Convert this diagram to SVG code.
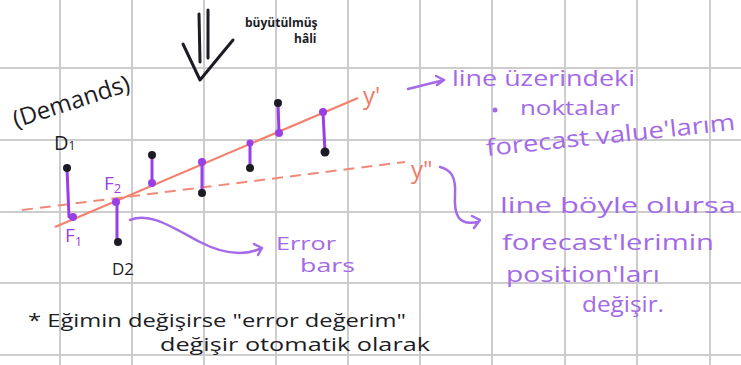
<svg xmlns="http://www.w3.org/2000/svg" width="741" height="365" viewBox="0 0 741 365">
<defs>
<style>
.grid{stroke:#cdcdcd;stroke-width:2}
.hw{font-family:"Open Sans","Liberation Sans",sans-serif}
.blk{fill:#1c1c24}
.pur{fill:#a36ae8}
.red{fill:#ef7a66}
.bar{stroke:#9a3ee6;stroke-width:3;stroke-linecap:round;fill:none}
.dem{fill:#1c1c24}
.fc{fill:#9a3ee6}
.pconn{stroke:#a46ae8;stroke-width:2.5;fill:none;stroke-linecap:round;stroke-linejoin:round}
</style>
</defs>
<rect width="741" height="365" fill="#ffffff"/>
<g id="grid">
<line class="grid" x1="60" y1="0" x2="60" y2="365"/>
<line class="grid" x1="132" y1="0" x2="132" y2="365"/>
<line class="grid" x1="204" y1="0" x2="204" y2="365"/>
<line class="grid" x1="276" y1="0" x2="276" y2="365"/>
<line class="grid" x1="348" y1="0" x2="348" y2="365"/>
<line class="grid" x1="420" y1="0" x2="420" y2="365"/>
<line class="grid" x1="492" y1="0" x2="492" y2="365"/>
<line class="grid" x1="565" y1="0" x2="565" y2="365"/>
<line class="grid" x1="637" y1="0" x2="637" y2="365"/>
<line class="grid" x1="710" y1="0" x2="710" y2="365"/>
<line class="grid" x1="0" y1="68" x2="741" y2="68"/>
<line class="grid" x1="0" y1="140" x2="741" y2="140"/>
<line class="grid" x1="0" y1="212" x2="741" y2="212"/>
<line class="grid" x1="0" y1="283" x2="741" y2="283"/>
<line class="grid" x1="0" y1="355" x2="741" y2="355"/>
</g>
<g id="lines">
<line x1="55" y1="227" x2="358" y2="98" stroke="#f2826e" stroke-width="2.2"/>
<line x1="22" y1="210" x2="405" y2="162" stroke="#f08a78" stroke-width="2" stroke-dasharray="11 7"/>
</g>
<g id="points">
<line class="bar" x1="67" y1="168" x2="69" y2="217"/>
<circle class="dem" cx="67" cy="168" r="4"/><circle class="fc" cx="73" cy="217" r="4"/>
<line class="bar" x1="117" y1="202" x2="117" y2="242"/>
<circle class="fc" cx="116" cy="202" r="4"/><circle class="dem" cx="118" cy="242" r="4"/>
<line class="bar" x1="152" y1="155" x2="152" y2="183"/>
<circle class="dem" cx="152" cy="155" r="4"/><circle class="fc" cx="152" cy="183" r="4"/>
<line class="bar" x1="202" y1="162" x2="202" y2="193"/>
<circle class="fc" cx="202" cy="162" r="4"/><circle class="dem" cx="202" cy="193" r="4"/>
<line class="bar" x1="250" y1="143" x2="250" y2="168"/>
<circle class="fc" cx="250" cy="143" r="3.5"/><circle class="dem" cx="250" cy="168" r="4"/>
<line class="bar" x1="278" y1="103" x2="279" y2="133"/>
<circle class="dem" cx="278" cy="103" r="4"/><circle class="fc" cx="279" cy="133" r="4"/>
<line class="bar" x1="323" y1="112" x2="325" y2="152"/>
<circle class="fc" cx="323" cy="112" r="4"/><circle class="dem" cx="325" cy="152" r="4.5"/>
</g>
<g id="big-arrow" stroke="#1c1c24" stroke-width="3" fill="none" stroke-linecap="round" stroke-linejoin="round">
<path d="M199 14 L200 62"/>
<path d="M208 10 L208 58"/>
<path d="M183 44 L200 80 L233 40"/>
</g>
<g id="labels-left">
<text class="hw blk" x="16" y="128" font-size="24" transform="rotate(-18 16 128)">(Demands)</text>
<text class="hw blk" x="54" y="150" font-size="20">D<tspan font-size="12">1</tspan></text>
<text class="hw" x="104" y="190" font-size="19" fill="#9a3ee6">F<tspan font-size="13" dy="3">2</tspan></text>
<text class="hw" x="65" y="242" font-size="19" fill="#9a3ee6">F<tspan font-size="13" dy="4">1</tspan></text>
<text class="hw blk" x="112" y="275" font-size="17">D2</text>
<text class="hw blk" x="245" y="27" font-size="12" font-weight="bold">büyütülmüş</text>
<text class="hw blk" x="294" y="43" font-size="12" font-weight="bold">hâli</text>
</g>
<g id="labels-red">
<text class="hw red" x="363" y="104" font-size="24">y'</text>
<text class="hw red" x="411" y="178" font-size="24">y"</text>
</g>
<g id="connectors">
<path class="pconn" d="M408 89 L444 80 M436 76 L444 80 L437 85"/>
<path class="pconn" d="M440 167 C452 170 456 178 455 195 C454 215 458 226 478 222 M472 216 L480 220 L474 228"/>
<path class="pconn" d="M130 220 C150 212 170 226 200 242 C225 255 245 256 262 248 M254 244 L262 248 L258 255"/>
</g>
<g id="note-top">
<text class="hw pur" x="452" y="86" font-size="22" textLength="183" lengthAdjust="spacingAndGlyphs">line üzerindeki</text>
<circle cx="495" cy="110" r="2.5" fill="#a36ae8"/>
<text class="hw pur" x="520" y="115" font-size="20" textLength="100" lengthAdjust="spacingAndGlyphs">noktalar</text>
<text class="hw pur" x="487" y="156" font-size="23" textLength="250" lengthAdjust="spacingAndGlyphs" transform="rotate(-6 487 156)">forecast value'larım</text>
</g>
<g id="note-right">
<text class="hw pur" x="500" y="213" font-size="22" textLength="236" lengthAdjust="spacingAndGlyphs">line böyle olursa</text>
<text class="hw pur" x="502" y="250" font-size="22" textLength="212" lengthAdjust="spacingAndGlyphs">forecast'lerimin</text>
<text class="hw pur" x="506" y="282" font-size="22" textLength="154" lengthAdjust="spacingAndGlyphs">position'ları</text>
<text class="hw pur" x="582" y="312" font-size="22" textLength="82" lengthAdjust="spacingAndGlyphs">değişir.</text>
</g>
<g id="error-label">
<text class="hw pur" x="276" y="250" font-size="19" textLength="60" lengthAdjust="spacingAndGlyphs">Error</text>
<text class="hw pur" x="300" y="272" font-size="18" textLength="55" lengthAdjust="spacingAndGlyphs">bars</text>
</g>
<g id="note-bottom">
<text class="hw blk" x="28" y="327" font-size="19" textLength="378" lengthAdjust="spacingAndGlyphs">* Eğimin değişirse "error değerim"</text>
<text class="hw blk" x="160" y="351" font-size="19" textLength="270" lengthAdjust="spacingAndGlyphs">değişir otomatik olarak</text>
</g>
</svg>
